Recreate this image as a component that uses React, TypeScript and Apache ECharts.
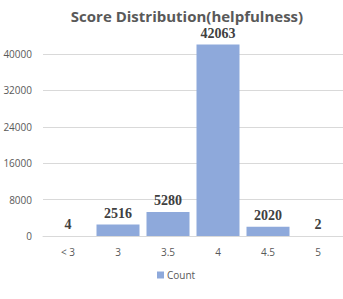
import React, { useEffect, useRef } from "react";
import * as echarts from "echarts";

const categories = ["< 3", "3", "3.5", "4", "4.5", "5"];
const counts = [4, 2516, 5280, 42063, 2020, 2];
const seriesName = "Count";
const titleText = "Score Distribution(helpfulness)";

export default function App() {
  const ref = useRef<HTMLDivElement>(null);
  useEffect(() => {
    const chart = echarts.init(ref.current!, undefined, { renderer: "svg" });
    chart.setOption({
      animation: false,
      backgroundColor: "#ffffff",
      title: {
        text: titleText,
        left: 182,
        textAlign: "center",
        top: 3,
        textStyle: { fontFamily: "Open Sans", fontSize: 15, fontWeight: "bold", color: "#595959" },
      },
      grid: { left: 43, right: 0, top: 54, bottom: 63 },
      xAxis: {
        type: "category",
        data: categories,
        axisLine: { lineStyle: { color: "#d9d9d9" } },
        axisTick: { show: false },
        axisLabel: { color: "#595959", fontSize: 10, fontFamily: "Open Sans", margin: 11 },
      },
      yAxis: {
        type: "value",
        min: 0,
        max: 40000,
        interval: 8000,
        axisLabel: {
          color: "#595959",
          fontSize: 10,
          fontFamily: "Open Sans",
          margin: 11,
          formatter: (v: number) => String(v),
        },
        splitLine: { lineStyle: { color: "#d9d9d9" } },
        axisLine: { show: false },
        axisTick: { show: false },
      },
      legend: {
        bottom: 14,
        left: 152,
        itemWidth: 7,
        itemHeight: 7,
        itemGap: 4,
        textStyle: { color: "#595959", fontSize: 10, fontFamily: "Open Sans", padding: [0, 0, 0, -2] },
        data: [{ name: seriesName, icon: "rect" }],
      },
      series: [
        {
          name: seriesName,
          type: "bar",
          data: counts,
          clip: false,
          barCategoryGap: "14%",
          itemStyle: { color: "#8EA9DB" },
          label: {
            show: true,
            position: "top",
            distance: 4,
            fontFamily: "Liberation Serif",
            fontWeight: "bold",
            fontSize: 14,
            color: "#404040",
          },
        },
      ],
    });
    return () => chart.dispose();
  }, []);
  return (
    <div
      ref={ref}
      style={{ position: "fixed", left: 0, top: 0, width: 343, height: 299 }}
    />
  );
}
